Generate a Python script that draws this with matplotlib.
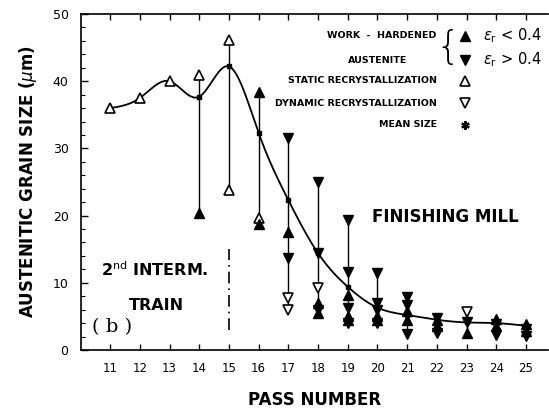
import numpy as np
import matplotlib
matplotlib.use("Agg")
import matplotlib.pyplot as plt

# ---------------- data ----------------
passes = [11, 12, 13, 14, 15, 16, 17, 18, 19, 20, 21, 22, 23, 24, 25]
mean_size = [36.0, 37.5, 40.0, 37.7, 42.2, 32.3, 22.3, 14.4, 9.4, 6.3, 5.2, 4.5, 4.1, 4.0, 3.6]

static_x = [11, 12, 13, 14, 15, 15, 16]
static_y = [36.0, 37.5, 40.0, 40.9, 46.1, 23.8, 19.7]

dynamic_x = [17, 17, 18, 23]
dynamic_y = [7.7, 6.0, 9.3, 5.6]

wh_low_x = [14, 16, 16, 17, 18, 18, 19, 19, 19, 20, 20, 21, 21, 22, 22, 23, 24, 24, 25, 25]
wh_low_y = [20.4, 38.4, 18.7, 17.6, 7.0, 5.5, 8.2, 5.0, 4.4, 5.0, 4.4, 5.8, 4.5, 4.4, 3.5, 2.6, 4.6, 3.5, 3.8, 2.8]

wh_high_x = [17, 17, 18, 18, 18, 19, 19, 19, 19, 20, 20, 20, 20, 21, 21, 21, 22, 22, 23, 24, 24, 25, 25]
wh_high_y = [31.5, 13.7, 25.0, 14.4, 6.0, 19.3, 11.6, 6.2, 4.0, 11.5, 7.0, 6.0, 4.0, 7.9, 6.7, 2.4, 4.8, 2.6, 4.2, 3.9, 2.3, 3.1, 2.1]

xticks = list(range(11, 26))
yticks = [0, 10, 20, 30, 40, 50]


def natural_spline(x, y, xs):
    x = np.asarray(x, float); y = np.asarray(y, float)
    n = len(x)
    h = np.diff(x)
    A = np.zeros((n, n)); b = np.zeros(n)
    A[0, 0] = 1; A[-1, -1] = 1
    for i in range(1, n - 1):
        A[i, i - 1] = h[i - 1]
        A[i, i] = 2 * (h[i - 1] + h[i])
        A[i, i + 1] = h[i]
        b[i] = 3 * ((y[i + 1] - y[i]) / h[i] - (y[i] - y[i - 1]) / h[i - 1])
    c = np.linalg.solve(A, b)
    out = np.empty_like(xs)
    for k, xv in enumerate(xs):
        i = min(max(np.searchsorted(x, xv) - 1, 0), n - 2)
        dx = xv - x[i]
        bi = (y[i + 1] - y[i]) / h[i] - h[i] * (2 * c[i] + c[i + 1]) / 3
        di = (c[i + 1] - c[i]) / (3 * h[i])
        out[k] = y[i] + bi * dx + c[i] * dx ** 2 + di * dx ** 3
    return out


fig = plt.figure(figsize=(5.49, 4.08), dpi=100)
ax = fig.add_axes([81 / 549, 1 - 350 / 408, 467 / 549, 336 / 408])
ax.set_xlim(10.02, 25.74)
ax.set_ylim(0, 50)

# vertical range lines
allx = static_x + dynamic_x + wh_low_x + wh_high_x
ally = static_y + dynamic_y + wh_low_y + wh_high_y
for p in passes:
    vals = [yy for xx, yy in zip(allx, ally) if xx == p]
    if len(vals) > 1:
        ax.vlines(p, min(vals), max(vals), color="black", lw=1.0, zorder=1)

# mean curve
xs = np.linspace(passes[0], passes[-1], 400)
ax.plot(xs, natural_spline(passes, mean_size, xs), color="black", lw=1.3, zorder=2)
ax.plot(passes[3:], mean_size[3:], ls="none", marker="s", ms=3, color="black", zorder=3)

ms = 7
ax.plot(static_x, static_y, ls="none", marker="^", ms=ms, mfc="white", mec="black", mew=1.2, zorder=4)
ax.plot(dynamic_x, dynamic_y, ls="none", marker="v", ms=ms, mfc="white", mec="black", mew=1.2, zorder=4)
ax.plot(wh_low_x, wh_low_y, ls="none", marker="^", ms=ms, color="black", zorder=5)
ax.plot(wh_high_x, wh_high_y, ls="none", marker="v", ms=ms, color="black", zorder=5)

# dash-dot separator at pass 15
ax.plot([15, 15], [3.0, 15.0], color="black", lw=1.2, ls=(0, (7, 3, 1, 3)), zorder=1)

# in-plot texts
ax.text(10.7, 12.0, r"2$^{\rm nd}$ INTERM.", fontsize=11.5, fontweight="bold", va="center", ha="left")
ax.text(12.55, 6.6, "TRAIN", fontsize=11.5, fontweight="bold", va="center", ha="center")
ax.text(10.4, 3.4, "( b )", fontsize=14, family="DejaVu Serif", va="center", ha="left")
ax.text(19.82, 19.8, "FINISHING MILL", fontsize=12, fontweight="bold", va="center", ha="left")

# legend built by hand (axes fraction)
lt = dict(transform=ax.transAxes, fontsize=6.8, fontweight="bold", va="center")
rx = 0.762
rows = [0.935, 0.863, 0.801, 0.735, 0.670]
ax.text(rx, rows[0], "WORK  -  HARDENED", ha="right", **lt)
ax.text(0.636, rows[1], "AUSTENITE", ha="center", **lt)
ax.text(rx, rows[2], "STATIC RECRYSTALLIZATION", ha="right", **lt)
ax.text(rx, rows[3], "DYNAMIC RECRYSTALLIZATION", ha="right", **lt)
ax.text(rx, rows[4], "MEAN SIZE", ha="right", **lt)
ax.text(0.786, 0.899, "{", transform=ax.transAxes, fontsize=28, ha="center", va="center",
        family="DejaVu Sans", fontweight="light")
mx = 0.822
ax.plot([mx], [rows[0]], transform=ax.transAxes, marker="^", ms=7, color="black", clip_on=False)
ax.plot([mx], [rows[1]], transform=ax.transAxes, marker="v", ms=7, color="black", clip_on=False)
ax.plot([mx], [rows[2]], transform=ax.transAxes, marker="^", ms=7, mfc="white", mec="black", mew=1.2, clip_on=False)
ax.plot([mx], [rows[3]], transform=ax.transAxes, marker="v", ms=7, mfc="white", mec="black", mew=1.2, clip_on=False)
ax.plot([mx], [rows[4]], transform=ax.transAxes, marker=(6, 2, 0), ms=6, mew=1.6, color="black", clip_on=False)
ax.text(0.861, rows[0], r"$\varepsilon_{\rm r}$ < 0.4", transform=ax.transAxes, fontsize=10.5, va="center", ha="left")
ax.text(0.861, rows[1], r"$\varepsilon_{\rm r}$ > 0.4", transform=ax.transAxes, fontsize=10.5, va="center", ha="left")

# axes styling
ax.spines["right"].set_visible(False)
for s in ["left", "bottom", "top"]:
    ax.spines[s].set_linewidth(1.2)
ax.set_xticks(xticks)
ax.set_xticklabels([str(t) for t in xticks], fontsize=8.5)
ax.set_yticks(yticks)
ax.set_yticklabels([str(t) for t in yticks], fontsize=9)
ax.set_yticks(np.arange(0, 51, 2), minor=True)
ax.tick_params(axis="x", direction="in", top=True, length=4, width=1, pad=9)
ax.tick_params(axis="y", which="major", direction="in", length=5, width=1, pad=9)
ax.tick_params(axis="y", which="minor", direction="in", length=3, width=0.8)

ax.set_xlabel("PASS NUMBER", fontsize=12, fontweight="bold", labelpad=11)
ax.set_ylabel(r"AUSTENITIC GRAIN SIZE ($\mu$m)", fontsize=12, fontweight="bold", labelpad=10)

fig.savefig("out.png", dpi=100)
